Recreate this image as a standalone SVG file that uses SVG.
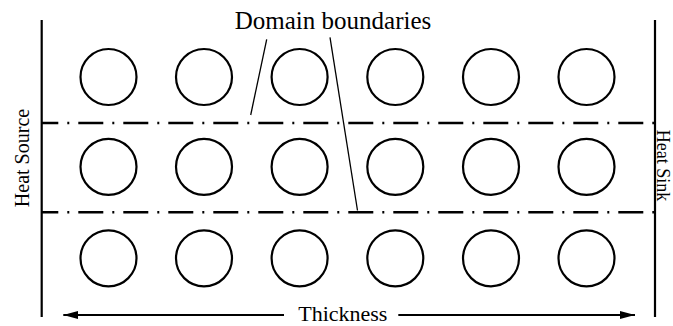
<svg xmlns="http://www.w3.org/2000/svg" width="673" height="326" viewBox="0 0 673 326">
<defs>
<style>
.t{font-family:"Liberation Serif","Times New Roman",serif;fill:#000}
.c{fill:none;stroke:#000;stroke-width:2.2}
.v{stroke:#000;stroke-width:2.2}
.dd{stroke:#000;stroke-width:2.4;stroke-dasharray:25 9 2 9;stroke-dashoffset:8.7}
.ld{stroke:#000;stroke-width:1.3}
.ar{stroke:#000;stroke-width:2}
</style>
<marker id="ah" viewBox="0 0 15 8" refX="15" refY="4" markerWidth="15" markerHeight="8" markerUnits="userSpaceOnUse" orient="auto">
<path d="M0,0 L15,4 L0,8 Z" fill="#000"/>
</marker>
</defs>
<rect width="673" height="326" fill="#fff"/>
<g id="heat-source">
<line class="v" x1="41.7" y1="20" x2="41.7" y2="317"/>
<text class="t" font-size="20" transform="translate(28.5,158) rotate(-90)" text-anchor="middle">Heat Source</text>
</g>
<g id="heat-sink">
<line class="v" x1="655" y1="20" x2="655" y2="317"/>
<text class="t" font-size="18" transform="translate(656.8,165.5) rotate(90)" text-anchor="middle">Heat Sink</text>
</g>
<g id="boundaries">
<line class="dd" x1="42" y1="123" x2="654" y2="123"/>
<line class="dd" x1="42" y1="212.3" x2="654" y2="212.3"/>
</g>
<g id="cells">
<circle class="c" cx="108.5" cy="77" r="28"/>
<circle class="c" cx="204" cy="77" r="28"/>
<circle class="c" cx="299.6" cy="77" r="28"/>
<circle class="c" cx="395.3" cy="77" r="28"/>
<circle class="c" cx="491" cy="77" r="28"/>
<circle class="c" cx="586.5" cy="77" r="28"/>
<circle class="c" cx="108.5" cy="166.8" r="28"/>
<circle class="c" cx="204" cy="166.8" r="28"/>
<circle class="c" cx="299.6" cy="166.8" r="28"/>
<circle class="c" cx="395.3" cy="166.8" r="28"/>
<circle class="c" cx="491" cy="166.8" r="28"/>
<circle class="c" cx="586.5" cy="166.8" r="28"/>
<circle class="c" cx="108.5" cy="258.3" r="28"/>
<circle class="c" cx="204" cy="258.3" r="28"/>
<circle class="c" cx="299.6" cy="258.3" r="28"/>
<circle class="c" cx="395.3" cy="258.3" r="28"/>
<circle class="c" cx="491" cy="258.3" r="28"/>
<circle class="c" cx="586.5" cy="258.3" r="28"/>
</g>
<g id="domain-label">
<text class="t" font-size="25" x="333" y="29.3" text-anchor="middle">Domain boundaries</text>
</g>
<g id="connectors">
<line class="ld" x1="266.7" y1="39.3" x2="250.7" y2="115"/>
<line class="ld" x1="330" y1="37.3" x2="357.5" y2="210.5"/>
<line class="ar" x1="284" y1="315" x2="63.3" y2="315" marker-end="url(#ah)"/>
<line class="ar" x1="398.3" y1="315" x2="635" y2="315" marker-end="url(#ah)"/>
</g>
<g id="thickness-label">
<text class="t" font-size="22" x="342.8" y="320.5" text-anchor="middle">Thickness</text>
</g>
</svg>
